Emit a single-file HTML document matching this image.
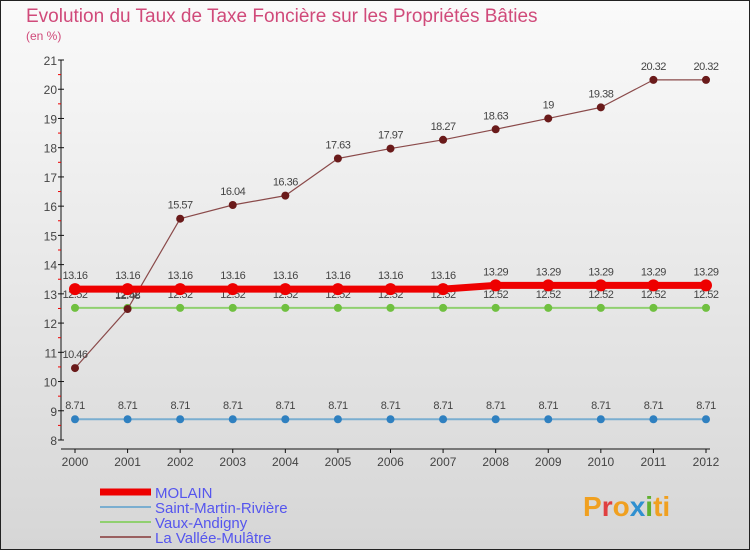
<!DOCTYPE html>
<html><head><meta charset="utf-8"><style>
body{margin:0;width:750px;height:550px;overflow:hidden;font-family:"Liberation Sans",sans-serif}
</style></head><body>
<svg width="750" height="550" xmlns="http://www.w3.org/2000/svg" font-family="Liberation Sans, sans-serif">
<defs><linearGradient id="bg" x1="0" y1="0" x2="0" y2="1"><stop offset="0" stop-color="#fafafa"/><stop offset="1" stop-color="#d6d6d6"/></linearGradient></defs>
<rect x="0.5" y="0.5" width="749" height="549" fill="url(#bg)" stroke="#222"/>
<text x="26" y="22" font-size="19" fill="#d04a7a">Evolution du Taux de Taxe Foncière sur les Propriétés Bâties</text>
<text x="26" y="40" font-size="12" fill="#d04a7a">(en %)</text>
<g id="axes"></g>
<g id="series"></g>
<g id="legend"></g>
<text x="583" y="516" font-size="28" font-weight="bold" fill="#f0a020">P<tspan fill="#e04040">r</tspan>o<tspan fill="#3090d0">x</tspan><tspan fill="#60b030">i</tspan>ti</text>
</svg>
<script>
const years=[2000,2001,2002,2003,2004,2005,2006,2007,2008,2009,2010,2011,2012];
const yTicks=[8,9,10,11,12,13,14,15,16,17,18,19,20,21];
const molain=[13.16,13.16,13.16,13.16,13.16,13.16,13.16,13.16,13.29,13.29,13.29,13.29,13.29];
const saintMartin=[8.71,8.71,8.71,8.71,8.71,8.71,8.71,8.71,8.71,8.71,8.71,8.71,8.71];
const vaux=[12.52,12.52,12.52,12.52,12.52,12.52,12.52,12.52,12.52,12.52,12.52,12.52,12.52];
const vallee=[10.46,12.48,15.57,16.04,16.36,17.63,17.97,18.27,18.63,19,19.38,20.32,20.32];
const NS="http://www.w3.org/2000/svg";
const x=i=>75+i*(706-75)/(years.length-1);
const y=v=>440-(v-8)*(440-60)/13;
function mk(p,t,a){const e=document.createElementNS(NS,t);for(const k in a)e.setAttribute(k,a[k]);p.appendChild(e);return e;}
const ax=document.getElementById('axes');
let l=mk(ax,'line',{x1:61,y1:60,x2:61,y2:440,stroke:'#111'});


l=mk(ax,'line',{x1:61,y1:449,x2:710,y2:449,stroke:'#111'});


yTicks.forEach(v=>{
 mk(ax,'line',{x1:58,y1:y(v),x2:64,y2:y(v),stroke:'#111'});
 if(v<21)mk(ax,'line',{x1:58,y1:y(v+0.5),x2:61,y2:y(v+0.5),stroke:'#e00'});
 const t=mk(ax,'text',{x:57,y:y(v)+5,'font-size':12,'text-anchor':'end',fill:'#444'});
 t.textContent=v;
 
 
});
years.forEach((yr,i)=>{
 mk(ax,'line',{x1:x(i),y1:449,x2:x(i),y2:453,stroke:'#111'});
 const t=mk(ax,'text',{x:x(i),y:466,'font-size':12,'text-anchor':'middle',fill:'#444'});
 t.textContent=yr;
 
 
});
const sg=document.getElementById('series');
function series(name,data,color,w,r,dot){
 const g=mk(sg,'g',{});
 
 
 const p=mk(g,'polyline',{points:data.map((v,i)=>x(i)+','+y(v)).join(' '),fill:'none',stroke:color,'stroke-width':w,'stroke-linejoin':'round'});
 
 
 data.forEach((v,i)=>{
  const c=mk(g,'circle',{cx:x(i),cy:y(v),r:r,fill:dot});
  
  
  const t=mk(g,'text',{x:x(i),y:y(v)-10,'font-size':11,'text-anchor':'middle',fill:'#444','letter-spacing':'-0.5'});
  t.textContent=String(v);
  
  
 });
}
series('saint-martin',saintMartin,'#7aaed0',2,4,'#2f80c0');
series('vaux',vaux,'#90d070',2,4,'#70c040');
series('vallee',vallee,'#8a4a4a',1.2,4,'#6a1a1a');
series('molain',molain,'#ee0000',7,6,'#ee0000');
const lg=document.getElementById('legend');
[['MOLAIN','#ee0000',7],['Saint-Martin-Rivière','#7aaed0',2],['Vaux-Andigny','#90d070',2],['La Vallée-Mulâtre','#9a6060',2]].forEach((d,i)=>{
 const yy=492+i*15;
 const ln=mk(lg,'line',{x1:100,y1:yy,x2:151,y2:yy,stroke:d[1],'stroke-width':d[2]});
 
 
 const t=mk(lg,'text',{x:155,y:yy+6,'font-size':15,fill:'#5555ee'});
 t.textContent=d[0];
 
 
});
</script>
</body></html>
